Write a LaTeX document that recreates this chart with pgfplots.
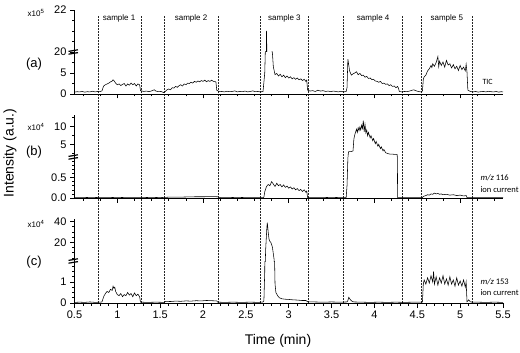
\documentclass[border=0pt]{standalone}
\usepackage{fontspec}
\setmainfont{Liberation Sans}
\newfontfamily\annfont{Carlito}
\usepackage{pgfplots}
\usepackage{pgfplotstable}
\pgfplotsset{compat=1.18}

% TIC, x10^5
\pgfplotstableread{
t y
0.50 0.45
0.53 0.55
0.56 0.5
0.59 0.6
0.62 0.45
0.65 0.55
0.68 0.5
0.71 0.65
0.74 0.5
0.77 0.6
0.80 0.55
0.82 0.75
0.84 1.9
0.86 2.2
0.88 2.4
0.90 2.6
0.92 2.9
0.94 3.1
0.95 3.4
0.96 3.2
0.98 2.6
1.00 2.2
1.02 2.4
1.04 2.0
1.06 2.3
1.08 2.5
1.10 1.9
1.12 2.4
1.14 2.1
1.16 2.6
1.18 2.2
1.20 2.5
1.22 1.9
1.24 2.4
1.26 2.2
1.27 0.8
1.31 0.6
1.34 0.7
1.37 0.55
1.40 0.75
1.43 1.0
1.45 0.7
1.48 0.55
1.51 0.6
1.54 0.35
1.56 0.6
1.58 1.0
1.60 1.2
1.62 1.0
1.64 1.5
1.66 1.4
1.68 1.8
1.70 1.6
1.72 2.0
1.74 2.2
1.76 1.9
1.78 2.4
1.80 2.2
1.82 2.6
1.84 2.5
1.86 2.8
1.88 2.6
1.90 3.0
1.92 2.8
1.94 3.1
1.96 2.9
1.98 3.2
2.00 3.0
2.02 3.3
2.04 2.9
2.06 3.2
2.08 3.0
2.10 3.3
2.12 3.0
2.15 2.9
2.16 0.9
2.19 0.55
2.22 0.6
2.25 0.5
2.28 0.65
2.31 0.55
2.34 0.6
2.37 0.75
2.40 0.5
2.43 0.6
2.46 0.55
2.49 0.7
2.52 0.5
2.55 0.6
2.58 0.75
2.61 0.55
2.64 0.6
2.67 0.5
2.70 0.6
2.72 5.0
2.74 21.0
2.75 19.0
2.77 14.0
2.79 12.0
2.81 9.6
2.82 6.5
2.84 4.6
2.86 4.9
2.88 4.3
2.90 4.7
2.92 4.1
2.94 4.5
2.96 3.9
2.98 4.3
3.00 3.8
3.02 4.1
3.04 3.6
3.06 3.9
3.08 3.5
3.10 3.8
3.12 3.4
3.14 3.6
3.16 3.2
3.18 3.5
3.20 3.0
3.21 3.3
3.22 0.9
3.25 0.7
3.28 0.8
3.31 0.6
3.34 0.9
3.37 0.7
3.40 0.8
3.43 0.6
3.46 0.7
3.49 0.55
3.52 0.7
3.55 0.6
3.58 0.5
3.61 0.65
3.64 0.5
3.67 0.6
3.68 1.5
3.69 8.3
3.71 5.5
3.73 4.5
3.75 4.8
3.77 5.0
3.79 5.3
3.81 4.6
3.83 4.9
3.85 4.4
3.87 4.5
3.89 4.0
3.91 4.2
3.93 3.7
3.95 3.8
3.97 3.4
3.99 3.5
4.01 3.1
4.03 3.0
4.05 2.8
4.07 3.0
4.09 2.5
4.11 2.6
4.13 2.3
4.15 2.4
4.17 2.0
4.19 2.2
4.21 1.8
4.23 1.9
4.25 1.5
4.27 1.8
4.28 1.4
4.29 0.6
4.32 0.5
4.35 0.6
4.38 0.55
4.41 0.7
4.44 0.9
4.46 1.0
4.48 0.8
4.51 0.6
4.54 0.5
4.56 0.7
4.57 3.5
4.58 4.1
4.60 4.5
4.62 5.5
4.64 6.0
4.66 6.8
4.67 6.3
4.68 7.2
4.70 6.6
4.72 7.5
4.74 8.9
4.75 6.5
4.76 7.8
4.78 6.8
4.80 7.6
4.82 6.4
4.84 8.0
4.86 6.9
4.88 7.2
4.90 6.2
4.92 7.0
4.94 6.0
4.96 6.6
4.98 5.6
5.00 6.8
5.02 5.8
5.04 6.4
5.06 5.5
5.07 7.1
5.08 5.2
5.09 0.9
5.12 0.6
5.15 0.5
5.18 0.6
5.21 0.45
5.24 0.55
5.27 0.6
5.30 0.5
5.33 0.65
5.36 0.55
5.39 0.5
5.42 0.6
5.45 0.45
5.48 0.55
5.50 0.5
}\tic

% m/z 116, x10^4
\pgfplotstableread{
t y
0.50 0.01
0.60 0.01
0.70 0.015
0.80 0.01
0.90 0.01
1.00 0.015
1.10 0.01
1.20 0.01
1.30 0.01
1.40 0.015
1.50 0.01
1.60 0.02
1.70 0.02
1.80 0.025
1.90 0.03
2.00 0.03
2.10 0.035
2.17 0.03
2.20 0.01
2.30 0.01
2.40 0.015
2.50 0.01
2.60 0.01
2.70 0.01
2.71 0.02
2.72 0.15
2.74 0.28
2.76 0.33
2.78 0.30
2.80 0.40
2.82 0.34
2.84 0.28
2.86 0.36
2.88 0.30
2.90 0.33
2.92 0.27
2.94 0.32
2.96 0.26
2.98 0.29
3.00 0.24
3.02 0.27
3.04 0.22
3.06 0.25
3.08 0.20
3.10 0.23
3.12 0.18
3.14 0.21
3.16 0.16
3.18 0.20
3.20 0.14
3.21 0.17
3.22 0.01
3.30 0.01
3.40 0.01
3.50 0.015
3.60 0.01
3.67 0.01
3.68 0.3
3.69 0.97
3.695 2.5
3.70 3.0
3.73 3.0
3.75 3.2
3.76 6.5
3.77 7.6
3.78 8.4
3.79 9.2
3.80 8.3
3.81 9.6
3.82 8.8
3.83 9.8
3.84 9.0
3.85 10.3
3.86 9.4
3.87 11.6
3.88 8.5
3.89 10.5
3.90 8.2
3.91 9.0
3.92 7.4
3.93 8.3
3.95 6.8
3.96 7.4
3.98 6.0
3.99 6.6
4.01 5.2
4.02 5.8
4.04 4.5
4.05 5.0
4.07 3.8
4.08 4.3
4.10 3.2
4.11 3.6
4.13 2.7
4.15 2.5
4.18 2.3
4.21 2.3
4.24 2.2
4.265 2.2
4.27 0.01
4.30 0.01
4.40 0.01
4.50 0.01
4.56 0.01
4.57 0.04
4.60 0.06
4.62 0.08
4.64 0.07
4.66 0.10
4.68 0.09
4.70 0.12
4.72 0.10
4.74 0.11
4.76 0.09
4.78 0.10
4.80 0.08
4.84 0.09
4.88 0.07
4.92 0.08
4.96 0.06
5.00 0.07
5.04 0.05
5.07 0.06
5.08 0.01
5.20 0.01
5.30 0.01
5.40 0.01
5.50 0.01
}\mza

% m/z 153, x10^4
\pgfplotstableread{
t y
0.50 0.03
0.56 0.04
0.62 0.03
0.68 0.05
0.74 0.03
0.80 0.04
0.82 0.05
0.84 0.3
0.86 0.45
0.88 0.55
0.90 0.5
0.92 0.65
0.94 0.6
0.95 0.8
0.96 0.7
0.97 0.75
0.98 0.55
1.00 0.4
1.02 0.35
1.04 0.45
1.06 0.3
1.08 0.4
1.10 0.35
1.12 0.5
1.14 0.38
1.16 0.45
1.18 0.3
1.20 0.48
1.22 0.35
1.24 0.42
1.26 0.3
1.27 0.04
1.35 0.03
1.45 0.04
1.55 0.03
1.56 0.08
1.62 0.07
1.68 0.09
1.74 0.08
1.80 0.10
1.86 0.09
1.92 0.11
1.98 0.10
2.04 0.12
2.10 0.11
2.16 0.10
2.17 0.04
2.25 0.03
2.35 0.04
2.45 0.03
2.55 0.04
2.65 0.03
2.70 0.05
2.71 0.1
2.72 1.5
2.73 12
2.745 35
2.75 39
2.76 30
2.77 23
2.78 21
2.79 20
2.80 18
2.81 15
2.82 9
2.83 3
2.84 0.9
2.85 0.5
2.87 0.35
2.89 0.25
2.92 0.2
2.96 0.18
3.00 0.17
3.05 0.15
3.10 0.14
3.15 0.12
3.20 0.12
3.22 0.06
3.30 0.05
3.40 0.04
3.50 0.05
3.60 0.04
3.68 0.05
3.69 0.12
3.70 0.27
3.72 0.15
3.74 0.08
3.76 0.05
3.85 0.04
3.95 0.03
4.05 0.04
4.15 0.03
4.25 0.04
4.35 0.03
4.45 0.04
4.56 0.04
4.57 0.9
4.58 1.1
4.60 0.9
4.62 1.2
4.64 0.95
4.66 1.3
4.68 1.0
4.69 1.5
4.70 0.9
4.72 1.25
4.74 0.85
4.76 1.2
4.78 0.95
4.80 1.3
4.82 0.9
4.84 1.15
4.86 0.85
4.88 1.25
4.90 0.9
4.92 1.1
4.94 0.8
4.96 1.2
4.98 0.85
5.00 1.05
5.02 0.8
5.04 1.1
5.06 0.75
5.07 1.0
5.08 0.06
5.10 0.15
5.12 0.05
5.20 0.04
5.30 0.03
5.40 0.04
5.50 0.03
}\mzb

\pgfplotsset{
  seg/.style={scale only axis, width=428.5pt, xmin=0.5, xmax=5.5,
    axis y line*=left, tick align=outside,
    major tick length=4.5pt, minor tick length=2.5pt,
    tick style={black, line width=0.6pt}, axis line style={black, line width=0.7pt},
    tick label style={font=\fontsize{11}{11}\selectfont},
    /pgf/number format/assume math mode=true},
  lowerseg/.style={seg, axis x line*=bottom, xtick={1,2,3,4,5},
    minor xtick={0.6,0.8,1.2,1.4,1.6,1.8,2.2,2.4,2.6,2.8,3.2,3.4,3.6,3.8,4.2,4.4,4.6,4.8,5.2,5.4},
    xticklabels={}},
  upperseg/.style={seg, axis x line=none},
  trace/.style={black, line width=0.55pt, no marks},
}

\begin{document}
\begin{tikzpicture}
\path[use as bounding box] (0,0) rectangle (520pt,-353pt);

% sample boundaries and labels
\begin{axis}[at={(74.5pt,-303pt)}, anchor=south west, scale only axis,
  width=428.5pt, height=293pt, xmin=0.5, xmax=5.5, ymin=0, ymax=293,
  hide axis, clip=false]
\addplot[ycomb, no marks, black!85, line width=0.7pt, dash pattern=on 0.7pt off 0.8pt]
  coordinates {(0.78,287) (1.28,287) (1.55,287) (2.18,287) (2.67,287) (3.23,287) (3.64,287) (4.33,287) (4.55,287) (5.14,287)};
\foreach \xx/\lab in {1.02/sample 1, 1.86/sample 2, 2.95/sample 3, 3.985/sample 4, 4.845/sample 5}{
  \edef\temp{\noexpand\node[font=\noexpand\fontsize{8}{8}\noexpand\selectfont] at (axis cs:\xx,285) {\lab};}
  \temp
}
\end{axis}

% (a) TIC
\begin{axis}[lowerseg, at={(74.5pt,-94pt)}, anchor=south west, height=42pt,
  ymin=0, ymax=10, ytick={0,5}, minor ytick={2.5,7.5}]
\addplot[trace] table {\tic};
\end{axis}
\begin{axis}[upperseg, name=au, at={(74.5pt,-52pt)}, anchor=south west, height=42pt,
  ymin=20, ymax=22, ytick={20,22}, minor ytick={20.5,21,21.5}]
\addplot[trace] table {\tic};
\end{axis}

% (b) m/z 116
\begin{axis}[lowerseg, at={(74.5pt,-198pt)}, anchor=south west, height=41pt,
  ymin=0, ymax=1, ytick={0,0.5}, yticklabels={0.0,0.5},
  minor ytick={0.1,0.2,0.3,0.4,0.6,0.7,0.8,0.9}]
\addplot[trace] table {\mza};
\end{axis}
\begin{axis}[upperseg, name=bu, at={(74.5pt,-157pt)}, anchor=south west, height=41.5pt,
  ymin=1.5, ymax=13, ytick={5,10}, minor ytick={2.5,7.5,12.5}]
\addplot[trace] table {\mza};
\end{axis}

% (c) m/z 153
\begin{axis}[seg, axis x line*=bottom, at={(74.5pt,-303pt)}, anchor=south west, height=42pt,
  ymin=0, ymax=2, ytick={0,1}, minor ytick={0.25,0.5,0.75,1.25,1.5,1.75},
  xtick={0.5,1,...,5.5}, minor x tick num=4,
  xticklabels={0.5,1,1.5,2,2.5,3,3.5,4,4.5,5,5.5}]
\addplot[trace] table {\mzb};
\end{axis}
\begin{axis}[upperseg, name=cu, at={(74.5pt,-261pt)}, anchor=south west, height=42.5pt,
  ymin=2, ymax=43, ytick={20,40}, minor ytick={5,10,15,25,30,35}]
\addplot[trace, y filter/.expression={y<2 ? -20 : y}] table {\mzb};
\end{axis}

% axis breaks
\foreach \n in {au,bu,cu}{
  \draw[line width=1.2pt] ([xshift=-6pt,yshift=-2.2pt]\n.south west) -- ([xshift=3.5pt,yshift=-0.6pt]\n.south west);
  \draw[line width=1.2pt] ([xshift=-6pt,yshift=0.6pt]\n.south west) -- ([xshift=3.5pt,yshift=2.2pt]\n.south west);
}

% texts
\node[font=\fontsize{13}{13}\selectfont] at (34pt,-64pt) {(a)};
\node[font=\fontsize{13}{13}\selectfont] at (34pt,-152pt) {(b)};
\node[font=\fontsize{13}{13}\selectfont] at (34pt,-262pt) {(c)};
\node[font=\fontsize{8}{8}\selectfont] at (36pt,-13pt) {x10\textsuperscript{5}};
\node[font=\fontsize{8}{8}\selectfont] at (36pt,-127pt) {x10\textsuperscript{4}};
\node[font=\fontsize{8}{8}\selectfont] at (36pt,-224pt) {x10\textsuperscript{4}};
\node[font=\fontsize{14}{14}\selectfont, rotate=90] at (10pt,-153pt) {Intensity (a.u.)};
\node[font=\fontsize{14}{14}\selectfont] at (278pt,-341pt) {Time (min)};
\node[font=\annfont\fontsize{8}{8}\selectfont, anchor=west] at (479pt,-82pt) {TIC};
\node[font=\annfont\fontsize{8.5}{8.5}\selectfont, anchor=west] at (477pt,-178pt) {\textit{m/z} 116};
\node[font=\annfont\fontsize{8.5}{8.5}\selectfont, anchor=west] at (477pt,-190pt) {ion current};
\node[font=\annfont\fontsize{8.5}{8.5}\selectfont, anchor=west] at (477pt,-282pt) {\textit{m/z} 153};
\node[font=\annfont\fontsize{8.5}{8.5}\selectfont, anchor=west] at (477pt,-293pt) {ion current};
\end{tikzpicture}
\end{document}
